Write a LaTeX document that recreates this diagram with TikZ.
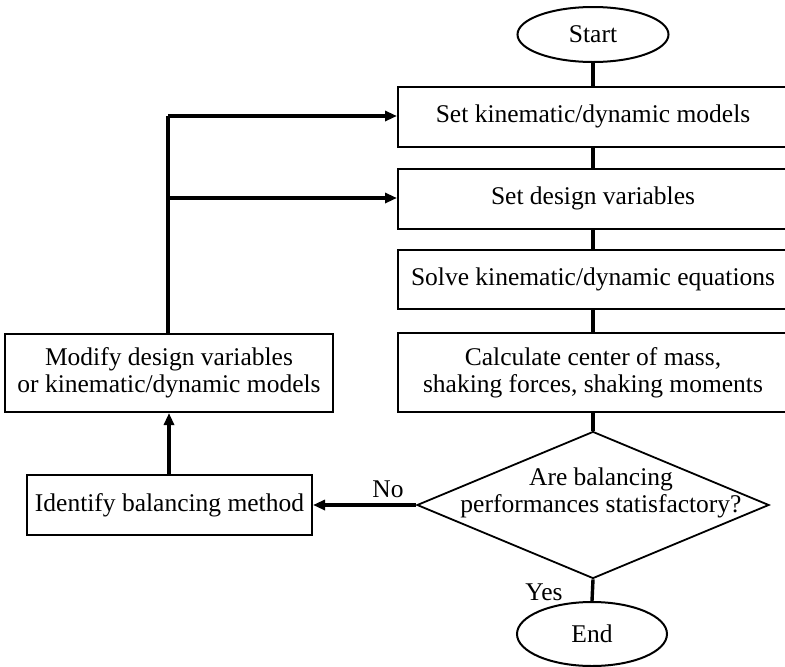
\documentclass[tikz,border=0pt]{standalone}
\usepackage{fontspec}
\setmainfont{Liberation Serif}
\usetikzlibrary{arrows.meta,shapes.geometric}
\begin{document}
\begin{tikzpicture}[x=1pt,y=-1pt,
  every node/.style={font=\fontsize{25.5}{29}\selectfont},
  procbox/.style={draw,line width=2pt,inner sep=0pt,align=center},
  term/.style={draw,line width=2pt,ellipse,inner sep=0pt},
  flow/.style={line width=3.4pt},
  arr/.style={flow,-{Triangle[length=12pt,width=10pt]}},
  lbl/.style={inner sep=0pt}]
\useasboundingbox (0,0) rectangle (785,667);
\node[term,minimum width=151pt,minimum height=55pt] (start) at (593,34.5) {Start};
\node[procbox,minimum width=390pt,minimum height=60pt] (b1) at (593,116.5) {Set kinematic/dynamic models};
\node[procbox,minimum width=390pt,minimum height=60pt] (b2) at (593,198.5) {Set design variables};
\node[procbox,minimum width=390pt,minimum height=59pt] (b3) at (593,279.5) {Solve kinematic/dynamic equations};
\node[procbox,minimum width=390pt,minimum height=79pt] (b4) at (593,372.5) {Calculate center of mass,\\[-2pt]shaking forces, shaking moments};
\node[draw,line width=1.8pt,diamond,aspect=2.4,minimum width=352pt,minimum height=147pt,inner sep=0pt] (dec) at (593,505) {};
\node[lbl,align=center] at (601,493) {Are balancing\\[-2pt]performances statisfactory?};
\node[term,minimum width=150pt,minimum height=64pt] (end) at (592,634) {End};
\node[procbox,minimum width=328pt,minimum height=78pt] (mod) at (169,373) {Modify design variables\\[-2pt] or kinematic/dynamic models};
\node[procbox,minimum width=285pt,minimum height=60pt] (iden) at (169.5,505) {Identify balancing method};
\node[lbl] at (388,489) {No};
\node[lbl] at (544,592) {Yes};
\coordinate (j1) at (168,116);
\coordinate (j2) at (168,198);
\draw[flow] (start.south) -- (b1.north);
\draw[flow] (b1.south) -- (b2.north);
\draw[flow] (b2.south) -- (b3.north);
\draw[flow] (b3.south) -- (b4.north);
\draw[flow] (b4.south) -- (dec.north);
\draw[flow] (dec.south) -- (end.north);
\draw[arr] (dec.west) -- (dec.west -| iden.east);
\draw[arr] (iden.north -| mod.south) -- (mod.south);
\draw[flow] (mod.north -| j1) -- (j1);
\draw[arr] (j1) -- (j1 -| b1.west);
\draw[arr] (j2) -- (j2 -| b2.west);
\end{tikzpicture}
\end{document}
